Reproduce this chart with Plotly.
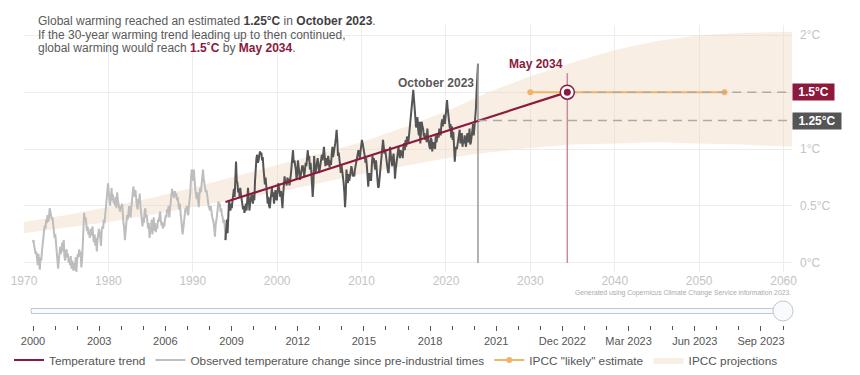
import plotly.graph_objects as go

# ---------------- data ----------------
FIRST_YEAR = 1971  # observed series starts January 1971 (monthly values, degC above pre-industrial)
obs_1970s = [  # 1971-1979
    0.18, 0.20, 0.15, 0.12, 0.08, 0.10, 0.05, -0.02, 0.08, 0.02, -0.06, 0.05,
    0.02, 0.10, 0.18, 0.22, 0.28, 0.33, 0.30, 0.38, 0.35, 0.42, 0.36, 0.40,
    0.48, 0.45, 0.42, 0.38, 0.40, 0.33, 0.28, 0.22, 0.25, 0.18, 0.05, -0.03,
    -0.05, 0.02, 0.10, 0.14, 0.08, 0.12, 0.18, 0.10, 0.20, 0.06, 0.02, 0.08,
    0.12, 0.05, 0.08, 0.00, 0.04, -0.02, 0.06, -0.05, 0.02, -0.03, -0.07, 0.00,
    -0.06, 0.05, -0.08, 0.02, 0.08, 0.05, 0.12, 0.06, 0.10, -0.04, 0.02, 0.15,
    0.25, 0.44, 0.38, 0.40, 0.35, 0.28, 0.32, 0.25, 0.27, 0.22, 0.30, 0.24,
    0.28, 0.32, 0.22, 0.18, 0.25, 0.15, 0.22, 0.10, 0.20, 0.26, 0.30, 0.27,
    0.22, 0.15, 0.28, 0.32, 0.30, 0.38, 0.35, 0.42, 0.45, 0.55, 0.62, 0.70,
]
obs_1980s = [
    0.62, 0.55, 0.50, 0.58, 0.66, 0.55, 0.60, 0.52, 0.56, 0.50, 0.58, 0.48,
    0.62, 0.55, 0.52, 0.47, 0.45, 0.50, 0.48, 0.52, 0.40, 0.35, 0.30, 0.20,
    0.28, 0.35, 0.42, 0.38, 0.45, 0.50, 0.43, 0.40, 0.48, 0.55, 0.60, 0.67,
    0.62, 0.58, 0.64, 0.55, 0.50, 0.47, 0.56, 0.52, 0.61, 0.50, 0.43, 0.38,
    0.32, 0.40, 0.35, 0.45, 0.48, 0.40, 0.42, 0.36, 0.30, 0.35, 0.22, 0.28,
    0.30, 0.38, 0.25, 0.32, 0.40, 0.28, 0.35, 0.27, 0.33, 0.30, 0.38, 0.36,
    0.40, 0.45, 0.38, 0.33, 0.36, 0.30, 0.35, 0.32, 0.38, 0.42, 0.40, 0.47,
    0.45, 0.50, 0.40, 0.48, 0.55, 0.58, 0.65, 0.62, 0.60, 0.57, 0.63, 0.60,
    0.61, 0.55, 0.58, 0.50, 0.47, 0.52, 0.45, 0.40, 0.35, 0.25, 0.30, 0.38,
    0.42, 0.48, 0.45, 0.50, 0.44, 0.42, 0.50, 0.55, 0.62, 0.75, 0.82, 0.80,
]
obs_1990s = [
    0.72, 0.82, 0.70, 0.65, 0.60, 0.56, 0.62, 0.50, 0.49, 0.60, 0.66, 0.62,
    0.70, 0.76, 0.82, 0.74, 0.70, 0.66, 0.62, 0.64, 0.58, 0.55, 0.50, 0.48,
    0.46, 0.50, 0.43, 0.41, 0.38, 0.36, 0.30, 0.23, 0.33, 0.36, 0.42, 0.48,
    0.54, 0.50, 0.52, 0.45, 0.48, 0.42, 0.40, 0.35, 0.38, 0.32, 0.20, 0.30,
    0.38, 0.26, 0.48, 0.55, 0.50, 0.46, 0.52, 0.48, 0.55, 0.62, 0.65, 0.58,
    0.85, 0.89, 0.72, 0.70, 0.62, 0.65, 0.58, 0.66, 0.60, 0.55, 0.52, 0.47,
    0.50, 0.44, 0.48, 0.52, 0.46, 0.55, 0.66, 0.58, 0.46, 0.52, 0.55, 0.60,
    0.58, 0.52, 0.60, 0.55, 0.72, 0.86, 0.92, 0.95, 0.88, 0.90, 0.96, 0.98,
    0.95, 0.97, 0.90, 0.93, 0.83, 0.78, 0.69, 0.75, 0.62, 0.60, 0.52, 0.58,
    0.50, 0.48, 0.55, 0.60, 0.66, 0.58, 0.62, 0.52, 0.60, 0.64, 0.57, 0.55,
]
obs_2000s = [
    0.62, 0.70, 0.66, 0.60, 0.58, 0.63, 0.55, 0.48, 0.60, 0.72, 0.76, 0.70,
    0.72, 0.68, 0.75, 0.70, 0.74, 0.68, 0.72, 0.78, 0.85, 0.92, 0.99, 0.88,
    0.90, 0.86, 0.82, 0.73, 0.78, 0.90, 0.85, 0.80, 0.73, 0.77, 0.82, 0.85,
    0.85, 0.80, 0.76, 0.82, 0.88, 0.85, 0.92, 0.99, 0.90, 0.94, 0.82, 0.88,
    0.80, 0.72, 0.58, 0.68, 0.94, 0.85, 0.79, 0.83, 0.88, 0.92, 0.87, 0.79,
    0.82, 0.86, 0.92, 0.95, 0.90, 0.96, 1.02, 0.94, 0.85, 0.92, 0.88, 0.86,
    0.94, 0.88, 0.84, 0.90, 0.86, 0.95, 1.02, 0.93, 0.96, 1.00, 1.05, 1.10,
    1.17, 1.08, 0.94, 0.97, 0.88, 0.84, 0.79, 0.86, 0.82, 0.75, 0.70, 0.62,
    0.49, 0.60, 0.82, 0.74, 0.70, 0.78, 0.72, 0.76, 0.80, 0.85, 0.82, 0.76,
    0.78, 0.76, 0.82, 0.85, 0.88, 0.90, 0.94, 0.99, 0.96, 0.92, 0.98, 1.02,
]
obs_2010s = [
    1.08, 1.05, 1.02, 0.98, 0.94, 0.88, 0.92, 0.85, 0.75, 0.67, 0.79, 0.72,
    0.79, 0.72, 0.85, 0.94, 0.88, 0.92, 0.86, 0.82, 0.90, 0.84, 0.72, 0.66,
    0.67, 0.74, 0.82, 0.92, 0.98, 1.04, 1.08, 1.02, 0.96, 1.00, 0.94, 0.88,
    0.86, 0.80, 0.79, 0.92, 1.02, 0.95, 0.90, 0.85, 0.92, 0.96, 0.88, 0.74,
    0.82, 0.87, 0.94, 0.99, 1.02, 0.96, 0.92, 0.99, 0.94, 0.98, 0.92, 1.03,
    1.05, 0.99, 1.08, 1.02, 1.11, 1.09, 1.06, 1.12, 1.20, 1.28, 1.37, 1.40,
    1.45, 1.52, 1.43, 1.35, 1.28, 1.19, 1.22, 1.28, 1.17, 1.12, 1.24, 1.05,
    1.15, 1.24, 1.20, 1.18, 1.11, 1.14, 1.08, 1.12, 1.06, 1.18, 1.10, 1.02,
    1.02, 1.00, 1.10, 1.08, 0.98, 1.04, 1.06, 1.02, 1.00, 1.12, 1.06, 1.10,
    1.14, 1.10, 1.18, 1.16, 1.12, 1.22, 1.26, 1.20, 1.24, 1.30, 1.22, 1.32,
]
obs_2020s = [  # Jan 2020 - Oct 2023
    1.38, 1.43, 1.35, 1.30, 1.24, 1.18, 1.22, 1.10, 1.20, 1.08, 1.15, 1.02,
    0.89, 0.98, 1.02, 1.00, 1.05, 1.08, 1.15, 1.17, 1.05, 1.10, 1.14, 1.02,
    1.08, 1.05, 1.12, 1.06, 1.02, 1.10, 1.14, 1.06, 1.08, 1.18, 1.04, 1.06,
    1.10, 1.16, 1.22, 1.12, 1.18, 1.28, 1.35, 1.50, 1.72, 1.75,
]

TREND_START = 1993.875   # Nov 1993
OCT_2023 = 2023.79
MAY_2034 = 2034.375
trend_x = [TREND_START, MAY_2034]
trend_y = [0.535, 1.5]

likely_x = [2030, 2053]
likely_y = [1.5, 1.5]

band_years = [1970, 1975, 1980, 1985, 1990, 1995, 2000, 2005, 2010, 2015,
              2020, 2025, 2030, 2035, 2040, 2045, 2050, 2055, 2061]
band_low = [0.26, 0.31, 0.36, 0.42, 0.49, 0.56, 0.62, 0.70, 0.78, 0.85,
            0.92, 0.97, 1.01, 1.04, 1.05, 1.06, 1.05, 1.04, 1.02]
band_high = [0.36, 0.42, 0.49, 0.57, 0.66, 0.76, 0.86, 0.96, 1.06, 1.19,
             1.33, 1.50, 1.64, 1.76, 1.87, 1.95, 2.00, 2.02, 2.03]

may_line_top = 1.667
thresholds = [1.5, 1.25]
threshold_labels = ["1.5°C", "1.25°C"]

x_tickvals = [1970, 1980, 1990, 2000, 2010, 2020, 2030, 2040, 2050, 2060]
y_tickvals = [0, 0.5, 1, 1.5, 2]
y_ticktext = ["0°C", "0.5°C", "1°C", "", "2°C"]

slider_labels = [str(y) for y in range(2000, 2023)] + [
    "Nov 2022", "Dec 2022", "Jan 2023", "Feb 2023", "Mar 2023", "Apr 2023",
    "May 2023", "Jun 2023", "Jul 2023", "Aug 2023", "Sep 2023", "Oct 2023"]

# ---------------- styling / layout ----------------
MAROON = "#8B1A3D"
ORANGE = "#F2B366"
DARK = "#555555"
LIGHT = "#BDBDBD"
FONT = "Liberation Sans, Arial, sans-serif"

OFF = 8                      # the page body margin around the plot div
W, H = 844, 359              # figure size (fits the 860x375 window with the body margin)
PLOT_L, PLOT_R, PLOT_T, PLOT_B = 24, 792, 25, 272   # plot area in window pixels
ML = PLOT_L - OFF
MR = W - (PLOT_R - OFF)
MT = PLOT_T - OFF
MB = H - (PLOT_B - OFF)
PW, PH = W - ML - MR, H - MT - MB


def px_x(px):
    """window pixel x -> paper fraction"""
    return (px - PLOT_L) / PW


def px_y(py):
    """window pixel y -> paper fraction"""
    return (PLOT_B - py) / PH


obs = obs_1970s + obs_1980s + obs_1990s + obs_2000s + obs_2010s + obs_2020s
obs_x = [FIRST_YEAR + i / 12 + 1 / 24 for i in range(len(obs))]
split = next(i for i, x in enumerate(obs_x) if x >= TREND_START - 1e-6)

fig = go.Figure()

# IPCC projections band
fig.add_trace(go.Scatter(
    x=band_years + band_years[::-1], y=band_high + band_low[::-1],
    fill="toself", fillcolor="rgba(240,212,186,0.40)", line=dict(width=0),
    mode="lines", name="IPCC projections", legendrank=4, hoverinfo="skip"))

# observed (light, pre-trend period)
fig.add_trace(go.Scatter(
    x=obs_x[:split + 1], y=obs[:split + 1], mode="lines",
    line=dict(color=LIGHT, width=2),
    name="Observed temperature change since pre-industrial times", legendrank=2))
# observed (dark, trend period)
fig.add_trace(go.Scatter(
    x=obs_x[split:], y=obs[split:], mode="lines",
    line=dict(color=DARK, width=2), showlegend=False))

# vertical marker lines
fig.add_trace(go.Scatter(x=[OCT_2023, OCT_2023], y=[0, obs[-1]], mode="lines",
                         line=dict(color="#9A9A9A", width=1.5), showlegend=False, hoverinfo="skip"))
fig.add_trace(go.Scatter(x=[MAY_2034, MAY_2034], y=[0, may_line_top], mode="lines",
                         line=dict(color="#C98A99", width=1.5), showlegend=False, hoverinfo="skip"))

# trend
fig.add_trace(go.Scatter(x=trend_x, y=trend_y, mode="lines",
                         line=dict(color=MAROON, width=2.2),
                         name="Temperature trend", legendrank=1))

# IPCC likely estimate
fig.add_trace(go.Scatter(x=likely_x, y=likely_y, mode="lines+markers",
                         line=dict(color=ORANGE, width=2),
                         marker=dict(color=ORANGE, size=6),
                         name='IPCC "likely" estimate', legendrank=3))

# dashed threshold lines
fig.add_trace(go.Scatter(x=[MAY_2034, 2061], y=[thresholds[0]] * 2, mode="lines",
                         line=dict(color="#ABABAB", width=1.5, dash="9px,6px"),
                         showlegend=False, hoverinfo="skip"))
fig.add_trace(go.Scatter(x=[OCT_2023, 2061], y=[thresholds[1]] * 2, mode="lines",
                         line=dict(color="#ABABAB", width=1.5, dash="9px,6px"),
                         showlegend=False, hoverinfo="skip"))

# May 2034 crossing marker
fig.add_trace(go.Scatter(x=[MAY_2034], y=[1.5], mode="markers",
                         marker=dict(size=14, color="white", line=dict(color=MAROON, width=1.5)),
                         showlegend=False, hoverinfo="skip"))
fig.add_trace(go.Scatter(x=[MAY_2034], y=[1.5], mode="markers",
                         marker=dict(size=7, color=MAROON),
                         showlegend=False, hoverinfo="skip"))

annotations = [
    dict(xref="paper", yref="paper", x=px_x(36), y=px_y(21), xanchor="left", yanchor="middle",
         showarrow=False, font=dict(size=12, color="#5A5A5A"),
         text="Global warming reached an estimated <b><span style='color:#3F3F3F'>1.25°C</span></b> in "
              "<b><span style='color:#3F3F3F'>October 2023</span></b>."),
    dict(xref="paper", yref="paper", x=px_x(36), y=px_y(35), xanchor="left", yanchor="middle",
         showarrow=False, font=dict(size=12, color="#5A5A5A"),
         text="If the 30-year warming trend leading up to then continued,"),
    dict(xref="paper", yref="paper", x=px_x(36), y=px_y(48), xanchor="left", yanchor="middle",
         showarrow=False, font=dict(size=12, color="#5A5A5A"),
         text="global warming would reach <b><span style='color:%s'>1.5˚C</span></b> by "
              "<b><span style='color:%s'>May 2034</span></b>." % (MAROON, MAROON)),
    dict(x=OCT_2023, y=1.58, xanchor="right", yanchor="middle", xshift=-2, showarrow=False,
         text="<b>October 2023</b>", font=dict(size=12, color="#595959")),
    dict(x=MAY_2034, y=1.745, xanchor="right", yanchor="middle", xshift=-2, showarrow=False,
         text="<b>May 2034</b>", font=dict(size=12, color=MAROON)),
    dict(xref="paper", x=1, y=thresholds[0], xanchor="left", yanchor="middle", showarrow=False,
         text="<b>%s</b>" % threshold_labels[0], font=dict(size=12, color="white"),
         bgcolor=MAROON, width=39, height=14, borderpad=1, align="center"),
    dict(xref="paper", x=1, y=thresholds[1], xanchor="left", yanchor="middle", showarrow=False,
         text="<b>%s</b>" % threshold_labels[1], font=dict(size=12, color="white"),
         bgcolor="#555555", width=46, height=14, borderpad=1, align="center"),
    dict(xref="paper", yref="paper", x=px_x(793), y=px_y(293), xanchor="right", yanchor="middle",
         showarrow=False, text="Generated using Copernicus Climate Change Service information 2023.",
         font=dict(size=6.8, color="#ABABAB")),
]

shapes = [
    dict(type="rect", xref="paper", yref="paper", x0=px_x(30), x1=px_x(374),
         y0=px_y(52), y1=px_y(OFF), fillcolor="white", line=dict(width=0), layer="between"),
]

steps = [dict(label=lab, method="skip", args=[]) for lab in slider_labels]

fig.update_layout(
    width=W, height=H,
    margin=dict(l=ML, r=MR, t=MT, b=MB, autoexpand=False),
    paper_bgcolor="white", plot_bgcolor="white",
    font=dict(family=FONT, size=12, color="#555555"),
    xaxis=dict(range=[1970, 2061], tickvals=x_tickvals, showgrid=True, gridcolor="#EDEDED",
               zeroline=False, showline=False, ticks="", tickfont=dict(size=12, color="#C4C4C4")),
    yaxis=dict(range=[-0.08, 2.09], tickvals=y_tickvals, ticktext=y_ticktext, side="right",
               showgrid=True, gridcolor="#EDEDED", zeroline=False, showline=False, ticks="",
               ticklabelstandoff=7, tickfont=dict(size=12, color="#C4C4C4")),
    showlegend=True,
    legend=dict(orientation="h", x=px_x(9), xanchor="left", y=px_y(345.5), yanchor="top",
                font=dict(size=11.8, color="#555555"), bgcolor="rgba(0,0,0,0)",
                traceorder="normal"),
    annotations=annotations,
    shapes=shapes,
    sliders=[dict(
        active=len(slider_labels) - 1, steps=steps,
        x=px_x(23), len=770 / PW, xanchor="left",
        y=px_y(301), yanchor="top",
        pad=dict(t=0, b=0, l=0, r=0),
        currentvalue=dict(visible=False),
        ticklen=5, minorticklen=4, tickcolor="#555555",
        font=dict(size=11, color="#555555"),
    )],
)

fig.write_html("out.html")
